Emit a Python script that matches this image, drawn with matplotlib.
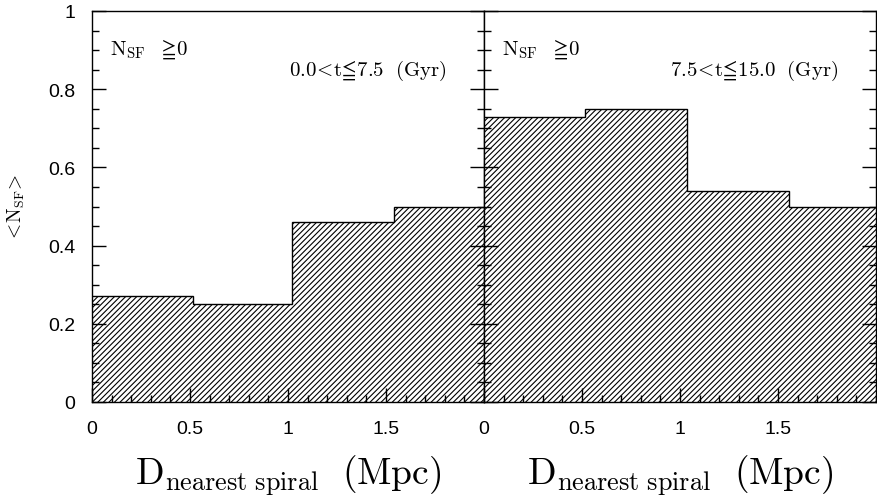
import matplotlib
matplotlib.use("Agg")
import matplotlib.pyplot as plt
from matplotlib.ticker import MultipleLocator, FixedLocator, FixedFormatter

plt.rcParams['mathtext.fontset'] = 'cm'
plt.rcParams['font.family'] = ['Liberation Sans', 'DejaVu Sans']
plt.rcParams['hatch.linewidth'] = 0.8

# Data
edges_early = [0.0, 0.515, 1.02, 1.54, 2.0]
values_early = [0.27, 0.25, 0.46, 0.50]
edges_late = [0.0, 0.515, 1.035, 1.555, 2.0]
values_late = [0.73, 0.75, 0.54, 0.50]
panel_labels = [r'$\mathrm{0.0\!<\!t\!\leqq\!7.5\ \ (Gyr)}$',
                r'$\mathrm{7.5\!<\!t\!\leqq\!15.0\ \ (Gyr)}$']
nsf_label = r'$\mathrm{N_{SF}}\ \ \geqq\!\mathrm{0}$'
xtick_vals = [0, 0.5, 1, 1.5]
xtick_labels = ['0', '0.5', '1', '1.5']
ytick_vals = [0, 0.2, 0.4, 0.6, 0.8, 1.0]
ytick_labels = ['0', '0.2', '0.4', '0.6', '0.8', '1']

W, H = 877, 502
fig = plt.figure(figsize=(W / 100, H / 100), dpi=100)
left0 = 92 / W
width = 392 / W
bottom = 99 / H
height = 391 / H
ax1 = fig.add_axes([left0, bottom, width, height])
ax2 = fig.add_axes([left0 + width, bottom, width, height])

for ax, edges, vals, lab in [(ax1, edges_early, values_early, panel_labels[0]),
                             (ax2, edges_late, values_late, panel_labels[1])]:
    ax.stairs(vals, edges, fill=True, hatch='//////', facecolor='white',
              edgecolor='black', linewidth=0)
    ax.stairs(vals, edges, fill=False, color='black', linewidth=1.0, baseline=None)
    ax.set_xlim(0, 2)
    ax.set_ylim(0, 1)
    ax.xaxis.set_major_locator(FixedLocator(xtick_vals))
    ax.xaxis.set_major_formatter(FixedFormatter(xtick_labels))
    ax.xaxis.set_minor_locator(MultipleLocator(0.1))
    ax.yaxis.set_major_locator(FixedLocator(ytick_vals))
    ax.yaxis.set_minor_locator(MultipleLocator(0.05))
    ax.tick_params(which='both', direction='in', top=False, right=True,
                   labelsize=14, width=1.0)
    ax.tick_params(axis='x', which='both', pad=13)
    ax.tick_params(axis='y', which='both', pad=12)
    ax.tick_params(which='major', length=10)
    ax.tick_params(which='minor', length=5)
    for s in ax.spines.values():
        s.set_linewidth(1.0)
    ax.text(0.045, 0.905, nsf_label, transform=ax.transAxes, fontsize=15,
            ha='left', va='center')
    ax.text(0.905, 0.85, lab, transform=ax.transAxes, fontsize=15,
            ha='right', va='center')
    ax.set_xlabel(r'$\mathrm{D_{nearest\ spiral}}\ \ \mathrm{(Mpc)}$',
                  fontsize=27, labelpad=11)

ax1.yaxis.set_major_formatter(FixedFormatter(ytick_labels))
ax2.tick_params(labelleft=False)
ax1.set_ylabel(r'$<\!\mathrm{N_{SF}}\!>$', fontsize=14, labelpad=15)

fig.savefig('out.png', dpi=100)
